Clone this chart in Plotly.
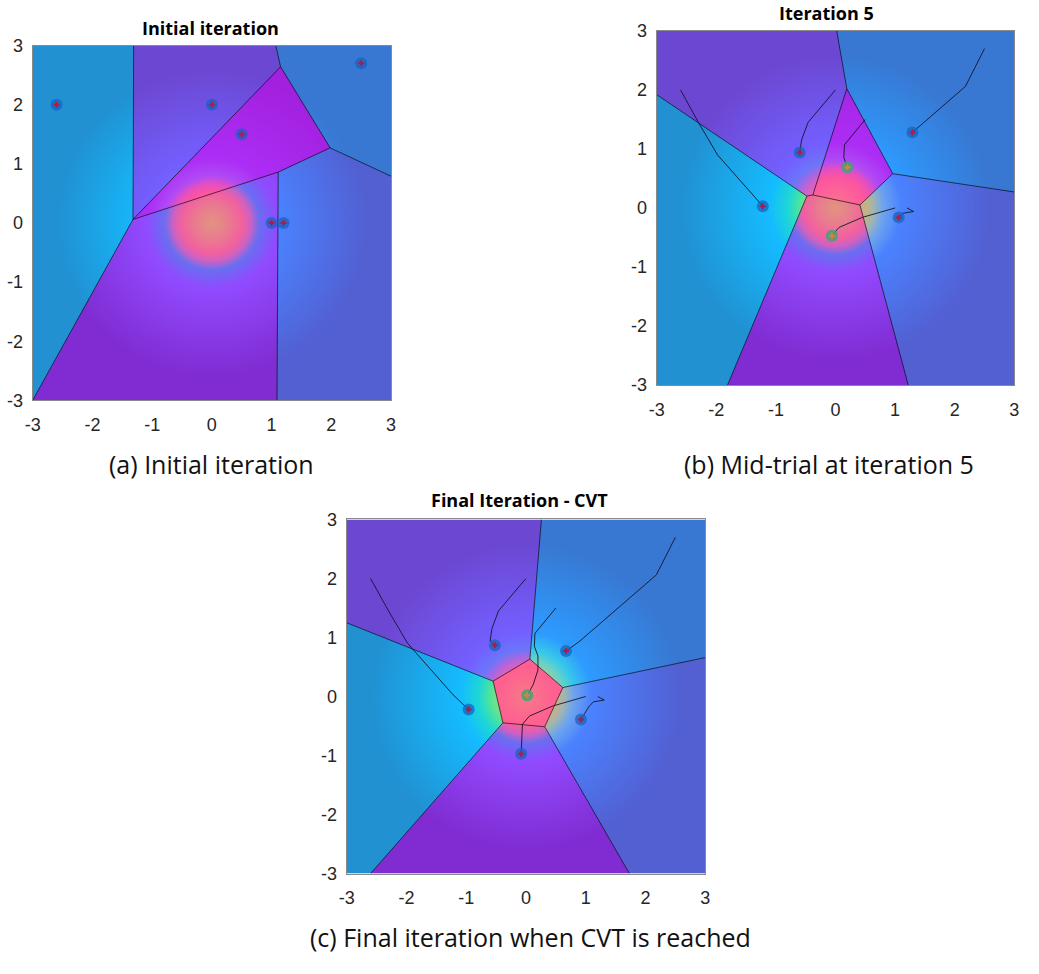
import base64
import struct
import zlib

import numpy as np
import plotly.graph_objects as go

# ---------------------------------------------------------------- data
AXIS_TICKS = [-3, -2, -1, 0, 1, 2, 3]
AXIS_TICK_TEXT = ["-3", "-2", "-1", "0", "1", "2", "3"]

PANEL_TITLES = ["Initial iteration", "Iteration 5", "Final Iteration - CVT"]
CAPTIONS = ["(a) Initial iteration", "(b) Mid-trial at iteration 5",
            "(c) Final iteration when CVT is reached"]

# Voronoi cells of each panel (polygon vertices) and their colour family
CELLS_A = [
    [(-3, 3), (-1.31, 3), (-1.32, 0.06), (-3, -3)],
    [(-1.31, 3), (1.07, 3), (1.15, 2.64), (-1.32, 0.06)],
    [(-1.32, 0.06), (1.15, 2.64), (1.98, 1.27), (1.11, 0.86)],
    [(1.07, 3), (3, 3), (3, 0.79), (1.98, 1.27), (1.15, 2.64)],
    [(1.11, 0.86), (1.98, 1.27), (3, 0.79), (3, -3), (1.09, -3)],
    [(-3, -3), (-1.32, 0.06), (1.11, 0.86), (1.09, -3)],
]
KINDS_A = ["cyan", "violet", "magenta", "blue", "indigo", "purple"]

CELLS_B = [
    [(-3, 1.92), (-0.48, 0.20), (-1.81, -3), (-3, -3)],
    [(-3, 3), (0.02, 3), (0.19, 2.02), (-0.38, 0.22), (-0.48, 0.20), (-3, 1.92)],
    [(-0.38, 0.22), (0.19, 2.02), (0.96, 0.58), (0.41, 0.05)],
    [(0.02, 3), (3, 3), (3, 0.27), (0.96, 0.58), (0.19, 2.02)],
    [(0.96, 0.58), (3, 0.27), (3, -3), (1.22, -3), (0.41, 0.05)],
    [(-0.48, 0.20), (-0.38, 0.22), (0.41, 0.05), (1.22, -3), (-1.81, -3)],
]
KINDS_B = ["cyan", "violet", "magenta", "blue", "indigo", "purple"]

CELLS_C = [
    [(-3, 1.25), (-0.55, 0.26), (-0.386, -0.446), (-2.6, -3), (-3, -3)],
    [(-3, 3), (0.258, 3), (0.065, 0.633), (-0.55, 0.26), (-3, 1.25)],
    [(0.258, 3), (3, 3), (3, 0.66), (0.616, 0.152), (0.065, 0.633)],
    [(0.616, 0.152), (3, 0.66), (3, -3), (1.73, -3), (0.313, -0.512)],
    [(-0.386, -0.446), (0.313, -0.512), (1.73, -3), (-2.6, -3)],
    [(-0.55, 0.26), (0.065, 0.633), (0.616, 0.152), (0.313, -0.512), (-0.386, -0.446)],
]
KINDS_C = ["cyan", "violet", "blue", "indigo", "purple", "pink"]

# generator trajectories (start = initial position, end = CVT position)
TRAJ_1 = [(-2.6, 2.0), (-2.3, 1.45), (-1.98, 0.9), (-1.22, 0.03), (-0.96, -0.22)]
TRAJ_2 = [(0.0, 2.0), (-0.46, 1.45), (-0.57, 1.15), (-0.6, 0.94), (-0.52, 0.87)]
TRAJ_3 = [(0.5, 1.5), (0.15, 1.07), (0.14, 0.85), (0.2, 0.69), (0.2, 0.45), (0.12, 0.2), (0.02, 0.02)]
TRAJ_4 = [(2.5, 2.7), (2.18, 2.06), (1.29, 1.28), (0.89, 0.93), (0.67, 0.77)]
TRAJ_5 = [(1.0, 0.0), (0.45, -0.16), (0.06, -0.33), (-0.06, -0.47), (-0.08, -0.97)]
TRAJ_6 = [(1.2, 0.0), (1.31, -0.06), (1.13, -0.09), (1.06, -0.16), (0.92, -0.39)]
TRAJECTORIES = [TRAJ_1, TRAJ_2, TRAJ_3, TRAJ_4, TRAJ_5, TRAJ_6]
ITER5_POINTS = [4, 4, 4, 3, 4, 4]   # trajectory points reached by iteration 5

# ---------------------------------------------------------------- style
PAGE_MARGIN = 8                       # browser default body margin
W, H = 1039 - 2 * PAGE_MARGIN, 974 - 2 * PAGE_MARGIN
RAMP_R = np.array([0.0, 0.3, 0.52, 0.65, 0.8, 1.1, 2.6])
PALETTE = {
    "cyan":    [(200, 205, 135), (160, 215, 135), (110, 228, 135), (65, 226, 170),
                (30, 215, 215), (20, 188, 255), (33, 145, 210)],
    "blue":    [(225, 160, 140), (200, 180, 150), (150, 205, 170), (100, 210, 200),
                (55, 200, 235), (45, 155, 255), (56, 120, 210)],
    "indigo":  [(228, 150, 135), (215, 165, 140), (195, 180, 135), (160, 180, 180),
                (110, 165, 238), (75, 130, 255), (82, 96, 210)],
    "violet":  [(235, 130, 150), (232, 115, 165), (220, 98, 190), (175, 102, 222),
                (108, 118, 250), (115, 95, 255), (108, 72, 210)],
    "purple":  [(226, 148, 128), (234, 122, 145), (242, 96, 160), (205, 98, 195),
                (105, 110, 242), (145, 75, 255), (128, 44, 210)],
    "magenta": [(250, 118, 140), (252, 100, 152), (252, 86, 160), (232, 80, 190),
                (175, 75, 245), (172, 45, 245), (162, 32, 222)],
    "pink":    [(245, 125, 135), (252, 105, 142), (255, 95, 145), (255, 96, 147),
                (255, 98, 148), (255, 100, 150), (255, 100, 150)],
}
# plot areas in page pixels: (left, top, right, bottom)
BOXES = [(33, 44.3, 396, 406.7), (665, 29.3, 1027.3, 391), (351, 528.3, 714.3, 890)]
TITLE_POS = [(213, 26), (837, 11), (526, 508)]
CAPTION_POS = [(214, 472), (840, 472), (537, 955)]


def px(x):
    return (x - PAGE_MARGIN) / W


def py(y):
    return 1 - (y - PAGE_MARGIN) / H


def in_poly(X, Y, poly):
    inside = np.zeros(X.shape, bool)
    n = len(poly)
    for i in range(n):
        x1, y1 = poly[i]
        x2, y2 = poly[(i + 1) % n]
        if y1 == y2:
            continue
        cond = (y1 > Y) != (y2 > Y)
        xint = (x2 - x1) * (Y - y1) / (y2 - y1) + x1
        inside ^= cond & (X < xint)
    return inside


def render(cells, kinds, npx=363, ss=2):
    n = npx * ss
    c = -3 + (np.arange(n) + 0.5) * 6.0 / n
    X, Y = np.meshgrid(c, c[::-1])
    lab = -np.ones(X.shape, int)
    for k, poly in enumerate(cells):
        m = in_poly(X, Y, poly) & (lab < 0)
        lab[m] = k
    if (lab < 0).any():
        cents = np.array([np.mean(p, axis=0) for p in cells])
        d = (X[..., None] - cents[:, 0]) ** 2 + (Y[..., None] - cents[:, 1]) ** 2
        nearest = d.argmin(-1)
        lab[lab < 0] = nearest[lab < 0]
    R = np.sqrt(X ** 2 + Y ** 2)
    img = np.zeros(X.shape + (3,))
    for k, kind in enumerate(kinds):
        m = lab == k
        cols = np.array(PALETTE[kind], float)
        for ch in range(3):
            img[..., ch][m] = np.interp(R[m], RAMP_R, cols[:, ch])
    img = img.reshape(npx, ss, npx, ss, 3).mean(axis=(1, 3))
    return np.clip(np.round(img), 0, 255).astype(np.uint8)


def png_uri(img):
    h, w, _ = img.shape
    raw = b"".join(b"\x00" + img[i].tobytes() for i in range(h))

    def chunk(t, d):
        return (struct.pack(">I", len(d)) + t + d
                + struct.pack(">I", zlib.crc32(t + d) & 0xFFFFFFFF))

    png = (b"\x89PNG\r\n\x1a\n"
           + chunk(b"IHDR", struct.pack(">IIBBBBB", w, h, 8, 2, 0, 0, 0))
           + chunk(b"IDAT", zlib.compress(raw, 9))
           + chunk(b"IEND", b""))
    return "data:image/png;base64," + base64.b64encode(png).decode()


def edges(cells):
    def on_frame(p, q):
        return ((p[0] == q[0] and abs(p[0]) == 3) or (p[1] == q[1] and abs(p[1]) == 3))
    seen, xs, ys = set(), [], []
    for poly in cells:
        for i in range(len(poly)):
            p, q = poly[i], poly[(i + 1) % len(poly)]
            if on_frame(p, q):
                continue
            key = tuple(sorted([p, q]))
            if key in seen:
                continue
            seen.add(key)
            xs += [p[0], q[0], None]
            ys += [p[1], q[1], None]
    return xs, ys


fig = go.Figure()
panels = [(CELLS_A, KINDS_A, [t[:1] for t in TRAJECTORIES]),
          (CELLS_B, KINDS_B, [t[:n] for t, n in zip(TRAJECTORIES, ITER5_POINTS)]),
          (CELLS_C, KINDS_C, [t for t in TRAJECTORIES])]

images = []
annotations = []
for i, (cells, kinds, paths) in enumerate(panels):
    xa = "x" if i == 0 else f"x{i + 1}"
    ya = "y" if i == 0 else f"y{i + 1}"
    images.append(dict(source=png_uri(render(cells, kinds)), xref=xa, yref=ya,
                       x=-3, y=3, sizex=6, sizey=6, xanchor="left", yanchor="top",
                       sizing="stretch", layer="below"))
    ex, ey = edges(cells)
    fig.add_trace(go.Scatter(x=ex, y=ey, mode="lines", xaxis=xa, yaxis=ya,
                             line=dict(color="rgba(0,0,0,0.62)", width=1),
                             hoverinfo="skip", showlegend=False))
    if i > 0:
        tx, ty = [], []
        for p in paths:
            tx += [q[0] for q in p] + [None]
            ty += [q[1] for q in p] + [None]
        fig.add_trace(go.Scatter(x=tx, y=ty, mode="lines", xaxis=xa, yaxis=ya,
                                 line=dict(color="rgba(15,15,35,0.85)", width=1),
                                 hoverinfo="skip", showlegend=False))
    gx = [p[-1][0] for p in paths]
    gy = [p[-1][1] for p in paths]
    core = [np.hypot(a, b) < 0.8 for a, b in zip(gx, gy)]
    ring = ["rgba(60,165,125,0.85)" if c else "rgba(20,100,195,0.75)" for c in core]
    dot = ["rgb(225,130,40)" if c else "rgb(170,30,70)" for c in core]
    fig.add_trace(go.Scatter(x=gx, y=gy, mode="markers", xaxis=xa, yaxis=ya,
                             marker=dict(size=12, color=ring, line=dict(width=0)),
                             hoverinfo="skip", showlegend=False))
    fig.add_trace(go.Scatter(x=gx, y=gy, mode="markers", xaxis=xa, yaxis=ya,
                             marker=dict(size=5, symbol="cross", color=dot, line=dict(width=0)),
                             hoverinfo="skip", showlegend=False))
    tx_, ty_ = TITLE_POS[i]
    annotations.append(dict(text=f"<b>{PANEL_TITLES[i]}</b>", x=px(tx_), y=py(ty_),
                            xref="paper", yref="paper", showarrow=False,
                            xanchor="center", yanchor="middle",
                            font=dict(family="Open Sans", size=18, color="#000")))
    cx_, cy_ = CAPTION_POS[i]
    annotations.append(dict(text=CAPTIONS[i], x=px(cx_), y=py(cy_),
                            xref="paper", yref="paper", showarrow=False,
                            xanchor="center", yanchor="middle",
                            font=dict(family="Open Sans", size=25, color="#111")))

axis_common = dict(range=[-3, 3], tickvals=AXIS_TICKS, ticktext=AXIS_TICK_TEXT,
                   showgrid=False, zeroline=False, showline=True, mirror=True,
                   linecolor="#8a8a8a", linewidth=1, ticks="",
                   tickfont=dict(family="Liberation Sans, Arial", size=18, color="#262626"))
layout = dict(width=W, height=H, margin=dict(l=0, r=0, t=0, b=0),
              paper_bgcolor="white", plot_bgcolor="white",
              images=images, annotations=annotations, showlegend=False)
for i, (l, t, r, b) in enumerate(BOXES):
    sx = "" if i == 0 else str(i + 1)
    layout[f"xaxis{sx}"] = dict(axis_common, domain=[px(l), px(r)],
                                anchor=f"y{sx}", ticklabelstandoff=8)
    layout[f"yaxis{sx}"] = dict(axis_common, domain=[py(b), py(t)],
                                anchor=f"x{sx}", ticklabelstandoff=5)
fig.update_layout(**layout)
fig.write_html("out.html")
